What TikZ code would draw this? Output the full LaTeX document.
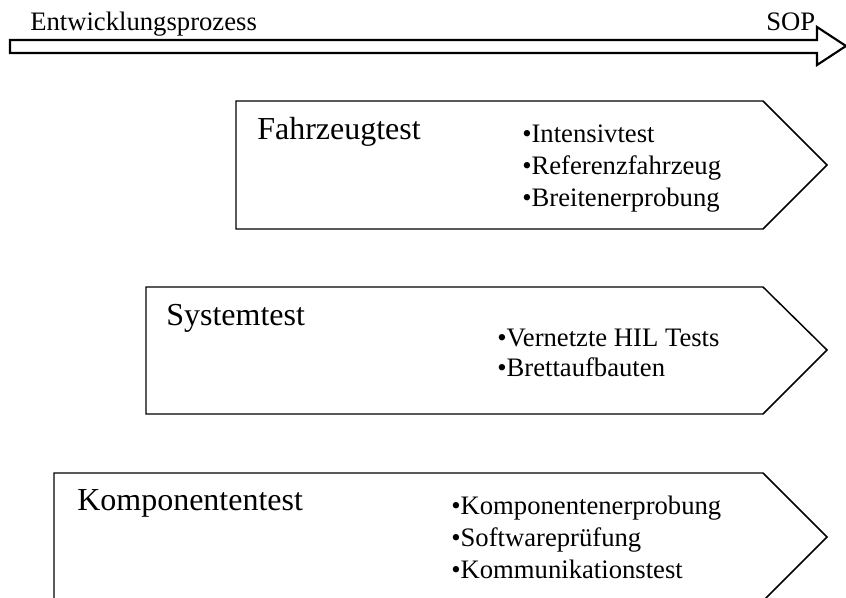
\documentclass[tikz,border=0pt]{standalone}
\usepackage{fontspec}
\setmainfont{Liberation Serif}
\begin{document}
\begin{tikzpicture}[x=0.75pt,y=-0.75pt,
  phase/.style={draw=black,line width=1.1pt,line join=miter,fill=white},
  proc/.style={draw=black,line width=1.6pt,line join=miter,fill=white},
  toplabel/.style={anchor=base west,inner sep=0pt,font=\fontsize{20}{22}\selectfont},
  heading/.style={anchor=base west,inner sep=0pt,font=\fontsize{24}{28}\selectfont},
  items/.style={anchor=base west,inner sep=0pt,align=left,font=\fontsize{20}{24.6}\selectfont}]
\useasboundingbox (0,0) rectangle (846,598);
\clip (0,0) rectangle (846,598);

% development timeline arrow
\draw[proc] (10,40) -- (817,40) -- (817,27) -- (846,46) -- (817,65) -- (817,53) -- (10,53) -- cycle;
\node[toplabel] (dev) at (30,31) {Entwicklungsprozess};
\node[toplabel] (sop) at (766,31) {SOP};

% test levels as chevron-shaped boxes
\draw[phase] (236,101) -- (763,101) -- (827,165) -- (763,229) -- (236,229) -- cycle;
\draw[phase] (146,287) -- (763,287) -- (827,350) -- (763,414) -- (146,414) -- cycle;
\draw[phase] (54,473) -- (763,473) -- (827,537) -- (763,601) -- (54,601) -- cycle;

\node[heading] (fzt) at (257,140) {Fahrzeugtest};
\node[items] (fzti) at (522,143) {•Intensivtest};
\node[items] (fztr) at (522,175) {•Referenzfahrzeug};
\node[items] (fztb) at (522,207) {•Breitenerprobung};

\node[heading] (syt) at (166,326) {Systemtest};
\node[items] (sytv) at (497,347) {•Vernetzte HIL Tests};
\node[items] (sytb) at (497,377) {•Brettaufbauten};

\node[heading] (kpt) at (77,510) {Komponententest};
\node[items] (kptk) at (451,514) {•Komponentenerprobung};
\node[items] (kpts) at (451,546) {•Softwareprüfung};
\node[items] (kptm) at (451,578) {•Kommunikationstest};
\end{tikzpicture}
\end{document}
